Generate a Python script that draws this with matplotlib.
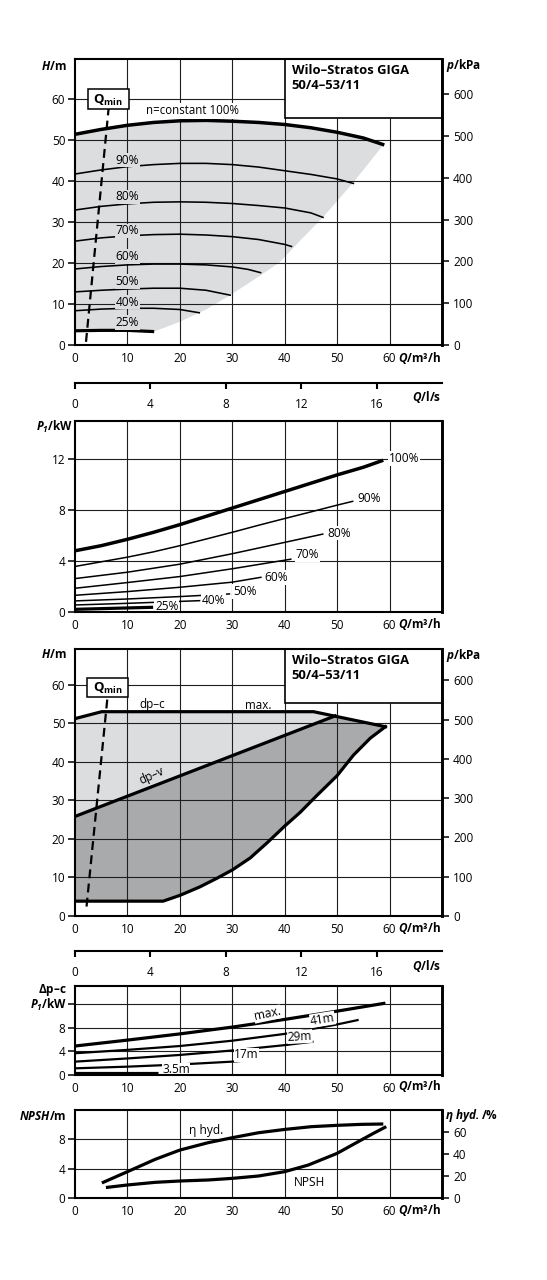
import matplotlib
matplotlib.use("Agg")
import matplotlib.pyplot as plt
from matplotlib.patches import Rectangle, Polygon

FONT = "Open Sans"
plt.rcParams.update({
    "font.family": [FONT, "DejaVu Sans"],
    "font.size": 8.5,
    "mathtext.fontset": "custom",
    "mathtext.rm": FONT,
    "mathtext.it": FONT + ":italic",
    "mathtext.bf": FONT + ":bold",
    "mathtext.bfit": FONT + ":bold:italic",
    "axes.linewidth": 1.5,
})

# ---------------- data ----------------
model_name = "Wilo–Stratos GIGA\n50/4–53/11"

q_ticks = [0, 10, 20, 30, 40, 50, 60]
qls_ticks = [0, 4, 8, 12, 16]
h_ticks = [0, 10, 20, 30, 40, 50, 60]
p_ticks = [0, 100, 200, 300, 400, 500, 600]

# head curves at constant speed (Q in m3/h, H in m)
speed_labels = ["90%", "80%", "70%", "60%", "50%", "40%", "25%"]
q_h100 = [0, 5, 10, 15, 20, 25, 30, 35, 40, 45, 50, 55, 59]
h_h100 = [51.4, 52.6, 53.6, 54.3, 54.7, 54.8, 54.6, 54.3, 53.8, 53.0, 51.9, 50.5, 48.8]
q_h90 = [0, 5, 10, 15, 20, 25, 30, 35, 40, 45, 50, 53.1]
h_h90 = [41.7, 42.7, 43.5, 44.0, 44.3, 44.3, 44.0, 43.4, 42.5, 41.6, 40.5, 39.4]
q_h80 = [0, 5, 10, 15, 20, 25, 30, 35, 40, 45, 47.3]
h_h80 = [32.9, 33.8, 34.4, 34.8, 34.9, 34.8, 34.5, 34.0, 33.4, 32.2, 31.1]
q_h70 = [0, 5, 10, 15, 20, 25, 30, 35, 40, 41.3]
h_h70 = [25.3, 26.1, 26.6, 26.9, 27.0, 26.8, 26.4, 25.7, 24.5, 24.0]
q_h60 = [0, 5, 10, 15, 20, 25, 30, 33, 35.4]
h_h60 = [18.5, 19.1, 19.5, 19.7, 19.7, 19.5, 19.0, 18.4, 17.6]
q_h50 = [0, 5, 10, 15, 20, 25, 29.6]
h_h50 = [12.9, 13.3, 13.6, 13.8, 13.8, 13.3, 12.1]
q_h40 = [0, 5, 10, 15, 20, 23.7]
h_h40 = [8.3, 8.7, 8.9, 8.9, 8.6, 7.8]
q_h25 = [0, 5, 10, 15.1]
h_h25 = [3.4, 3.5, 3.5, 3.2]
# right-hand edge of the operating field
q_edge = [15.1, 20, 25, 29.6, 35, 39.1, 43, 47.4, 53, 58.8]
h_edge = [3.2, 5.6, 8.6, 12.1, 16.6, 20.2, 25.5, 31.3, 39.5, 48.8]
# minimum flow marker
q_min = [2.1, 6.4]
h_min = [0.7, 57.6]

# power input P1 (kW) per speed
p_labels = ["100%", "90%", "80%", "70%", "60%", "50%", "40%", "25%"]
q_p100 = [0, 5, 10, 15, 20, 25, 30, 35, 40, 45, 50, 55, 58.8]
p_p100 = [4.8, 5.2, 5.7, 6.25, 6.85, 7.5, 8.15, 8.8, 9.45, 10.1, 10.75, 11.35, 11.9]
q_p90 = [0, 10, 15, 20, 25, 30, 35, 40, 45, 50, 53.1]
p_p90 = [3.57, 4.3, 4.72, 5.2, 5.72, 6.25, 6.8, 7.33, 7.85, 8.38, 8.69]
q_p80 = [0, 10, 20, 30, 40, 47.4]
p_p80 = [2.62, 3.12, 3.75, 4.57, 5.46, 6.12]
q_p70 = [0, 10, 20, 30, 41.3]
p_p70 = [1.86, 2.31, 2.78, 3.39, 4.15]
q_p60 = [0, 10, 20, 30, 35.6]
p_p60 = [1.31, 1.60, 1.94, 2.34, 2.73]
q_p50 = [0, 10, 20, 29.6]
p_p50 = [0.87, 1.02, 1.21, 1.42]
q_p40 = [0, 10, 23.9]
p_p40 = [0.55, 0.68, 0.89]
q_p25 = [0, 14.9]
p_p25 = [0.21, 0.37]

# control modes dp-c / dp-v
q_max_line = [0, 5.1, 45.5, 59.2]
h_max_line = [51.2, 53.0, 53.0, 49.1]
q_dpv = [0, 49.6]
h_dpv = [25.8, 51.9]
q_min_line = [0, 16.8, 20.0, 23.8, 27.0, 30.0, 33.4, 36.6, 40.0, 42.9, 46.1, 50.0, 53.1, 56.3, 59.2]
h_min_line = [3.8, 3.8, 5.3, 7.5, 9.7, 11.9, 15.0, 18.9, 23.3, 26.8, 31.2, 36.4, 41.7, 46.1, 49.1]
q_min2 = [2.2, 6.2]
h_min2 = [2.4, 56.8]

# power input at dp-c setpoints
dpc_labels = ["max.", "41m", "29m", "17m", "3.5m"]
q_c_max = [0, 10, 20, 30, 40, 50, 59.2]
p_c_max = [4.9, 5.9, 6.95, 8.1, 9.4, 10.8, 12.15]
q_c41 = [0, 10, 20, 30, 40, 50, 54.1]
p_c41 = [3.68, 4.25, 4.9, 5.8, 6.95, 8.55, 9.32]
q_c29 = [0, 10, 20, 30, 40, 45.5]
p_c29 = [2.26, 2.8, 3.39, 4.15, 5.05, 5.65]
q_c17 = [0, 10, 20, 30, 34.9]
p_c17 = [1.13, 1.41, 1.78, 2.26, 2.6]
q_c35 = [0, 15.8]
p_c35 = [0.4, 0.4]

# NPSH (m) and hydraulic efficiency (%)
q_eta = [5.4, 10, 15.3, 20, 25.4, 30, 35, 40, 45.1, 50, 54.7, 58.5]
eta = [14.5, 24.1, 35.3, 43.7, 50.4, 54.9, 59.4, 62.4, 64.9, 66.1, 67.0, 67.3]
q_npsh = [6.2, 10, 15.3, 20, 25.4, 30, 35, 40, 44.5, 50, 54, 56.9, 59.1]
npsh = [1.49, 1.81, 2.17, 2.35, 2.49, 2.71, 3.03, 3.62, 4.52, 6.11, 7.69, 8.82, 9.64]

# ---------------- layout helpers ----------------
W, H = 547, 1280
fig = plt.figure(figsize=(W / 100, H / 100), dpi=100)
fig.patch.set_facecolor("white")


def box(l, t, r, b):
    return [l / W, 1 - b / H, (r - l) / W, (b - t) / H]


def ftext(x, y, s, **kw):
    fig.text(x / W, 1 - y / H, s, **kw)


GRID = dict(color="#1e1e1e", lw=0.8, zorder=1)
LIGHT = "#dcdddf"
DARK = "#a9aaac"
QLABEL = r"$\mathbfit{Q}\mathbf{/m³/h}$"


def base_panel(rect, ytop, yticks, ylabels=None):
    ax = fig.add_axes(box(*rect))
    ax.set_xlim(0, 70)
    ax.set_ylim(0, ytop)
    ax.set_xticks(q_ticks)
    ax.set_yticks(yticks)
    if ylabels is not None:
        ax.set_yticklabels(ylabels)
    ax.tick_params(axis="x", length=0, pad=5, labelsize=8.5)
    ax.tick_params(axis="y", direction="out", length=5, width=1.1, pad=2, labelsize=8.5)
    ax.spines["right"].set_linewidth(2.1)
    for s in ax.spines.values():
        s.set_zorder(6)
    return ax


def right_axis(ax, ytop, ticks, factor):
    tw = ax.twinx()
    tw.set_ylim(0, ytop * factor)
    tw.set_yticks(ticks)
    tw.tick_params(axis="y", direction="out", length=5, width=1.1, pad=3, labelsize=8.5)
    for s in tw.spines.values():
        s.set_visible(False)
    return tw


def qls_axis(y_line):
    a = fig.add_axes(box(75, y_line - 1, 442, y_line))
    a.set_xlim(0, 70 / 3.6)
    a.set_ylim(0, 1)
    a.set_xticks(qls_ticks)
    a.set_yticks([])
    for k in ("top", "left", "right"):
        a.spines[k].set_visible(False)
    a.spines["bottom"].set_linewidth(1.5)
    a.patch.set_visible(False)
    a.tick_params(axis="x", direction="out", length=4, width=1.5, pad=7, labelsize=8.5)
    ftext(441, y_line + 14.5, r"$\mathbfit{Q}\mathbf{/l/s}$", ha="right", va="center", fontsize=8.5)


def title_box(ax, ybot, ytop):
    ax.add_patch(Rectangle((40, ybot), 30, ytop - ybot, facecolor="white",
                           edgecolor="black", lw=1.2, zorder=5, clip_on=False))
    ax.text(41.3, ytop - 1.2, model_name, ha="left", va="top", fontsize=9.4,
            fontweight="bold", linespacing=1.2, zorder=6)


def qmin_box(ax, x0, x1, y0, y1):
    ax.add_patch(Rectangle((x0, y0), x1 - x0, y1 - y0, facecolor="white",
                           edgecolor="black", lw=1.1, zorder=5))
    ax.text((x0 + x1) / 2, (y0 + y1) / 2 - 0.3, r"$\mathbf{Q}_{\mathbf{min}}$", ha="center",
            va="center", fontsize=9.5, zorder=6)


def hv_grid(ax, hlines, vfull, vshort, vshort_top, h60_right=None, h60=None):
    for y in hlines:
        ax.hlines(y, 0, 70, **GRID)
    if h60 is not None:
        ax.hlines(h60, 0, h60_right, **GRID)
    for x in vfull:
        ax.vlines(x, 0, ax.get_ylim()[1], **GRID)
    for x in vshort:
        ax.vlines(x, 0, vshort_top, **GRID)


# ---------------- panel 1: head curves ----------------
Y1 = 69.8
ax1 = base_panel((75, 59, 442, 344.7), Y1, h_ticks)
right_axis(ax1, Y1, p_ticks, 9.81)
hv_grid(ax1, [10, 20, 30, 40, 50], [10, 20, 30, 40], [50, 60], 55.3, 40, 60)
field = list(zip(q_h25, h_h25)) + list(zip(q_edge, h_edge)) + list(zip(q_h100[::-1], h_h100[::-1]))
ax1.add_patch(Polygon(field, closed=True, facecolor=LIGHT, edgecolor="none", zorder=0.5))
ax1.plot(q_h100, h_h100, color="black", lw=2.5, solid_capstyle="butt", zorder=3)
speed_curves = [(q_h90, h_h90), (q_h80, h_h80), (q_h70, h_h70), (q_h60, h_h60),
                (q_h50, h_h50), (q_h40, h_h40)]
for qs, hs in speed_curves:
    ax1.plot(qs, hs, color="black", lw=1.15, zorder=3)
ax1.plot(q_h25, h_h25, color="black", lw=2.3, solid_capstyle="butt", zorder=3)
speed_label_y = [45.1, 36.1, 27.8, 21.5, 15.4, 10.4, 5.4]
for lab, yy in zip(speed_labels, speed_label_y):
    ax1.text(10, yy, lab, ha="center", va="center", fontsize=8.6, zorder=4,
             bbox=dict(facecolor=LIGHT, edgecolor="none", pad=0.6))
ax1.text(22.5, 57.1, "n=constant 100%", ha="center", va="center", fontsize=8.3, zorder=4,
         bbox=dict(facecolor="white", edgecolor="none", pad=0.8))
ax1.plot(q_min, h_min, color="black", lw=1.6, ls=(0, (4, 2.4)), zorder=3)
qmin_box(ax1, 2.4, 10.3, 57.6, 62.4)
title_box(ax1, 55.3, Y1)
ftext(67, 66, r"$\mathbfit{H}\mathbf{/m}$", ha="right", va="center", fontsize=8.5)
ftext(445.5, 66, r"$\mathbfit{p}\mathbf{/kPa}$", ha="left", va="center", fontsize=8.5)
ftext(441, 357.5, QLABEL, ha="right", va="center", fontsize=8.5)
qls_axis(382.7)

# ---------------- panel 2: power input per speed ----------------
Y2 = 15.0
ax2 = base_panel((75, 420.7, 442, 612), Y2, [0, 4, 8, 12])
hv_grid(ax2, [4, 8, 12], [10, 20, 30, 40, 50, 60], [], 0)
p_curves = [(q_p100, p_p100), (q_p90, p_p90), (q_p80, p_p80), (q_p70, p_p70),
            (q_p60, p_p60), (q_p50, p_p50), (q_p40, p_p40), (q_p25, p_p25)]
p_widths = [2.5, 1.1, 1.1, 1.1, 1.1, 1.1, 1.1, 2.3]
p_label_pos = [(62.7, 12.05), (56.1, 8.87), (50.3, 6.19), (44.3, 4.49), (38.4, 2.70),
               (32.4, 1.60), (26.4, 0.89), (17.5, 0.42)]
for (qs, ps), lw, lab, (lx, ly) in zip(p_curves, p_widths, p_labels, p_label_pos):
    ax2.plot(qs, ps, color="black", lw=lw, solid_capstyle="butt", zorder=3)
    ax2.text(lx, ly, lab, ha="center", va="center", fontsize=8.6, zorder=4, clip_on=True,
             bbox=dict(facecolor="white", edgecolor="none", pad=0.5))
ftext(73, 427, r"$\mathbfit{P}_{\mathbfit{1}}\mathbf{/kW}$", ha="right", va="center", fontsize=8.5)
ftext(441, 624, QLABEL, ha="right", va="center", fontsize=8.5)

# ---------------- panel 3: control modes ----------------
Y3 = 69.2
ax3 = base_panel((75, 649.3, 442, 915.8), Y3, h_ticks)
right_axis(ax3, Y3, p_ticks, 9.81)
hv_grid(ax3, [10, 20, 30, 40, 50], [10, 20, 30, 40], [50, 60], 55.2, 40, 60)
light_poly = list(zip(q_max_line[:3], h_max_line[:3])) + [(q_dpv[1], h_dpv[1])] + [(q_dpv[0], h_dpv[0])]
ax3.add_patch(Polygon(light_poly, closed=True, facecolor=LIGHT, edgecolor="none", zorder=0.5))
dark_poly = (list(zip(q_dpv, h_dpv)) + [(q_max_line[-1], h_max_line[-1])]
             + list(zip(q_min_line[::-1], h_min_line[::-1])))
ax3.add_patch(Polygon(dark_poly, closed=True, facecolor=DARK, edgecolor="none", zorder=0.5))
ax3.plot(q_max_line, h_max_line, color="black", lw=2.3, solid_joinstyle="miter", zorder=3)
ax3.plot(q_dpv, h_dpv, color="black", lw=2.3, zorder=3)
ax3.plot(q_min_line, h_min_line, color="black", lw=2.3, zorder=3)
ax3.text(14.7, 54.9, "dp–c", ha="center", va="center", fontsize=8.4, zorder=4)
ax3.text(34.9, 54.7, "max.", ha="center", va="center", fontsize=8.4, zorder=4)
ax3.text(14.6, 36.4, "dp–v", ha="center", va="center", fontsize=8.4, zorder=4, rotation=24)
ax3.plot(q_min2, h_min2, color="black", lw=1.6, ls=(0, (4, 2.4)), zorder=3)
qmin_box(ax3, 2.35, 10.2, 56.8, 61.7)
title_box(ax3, 55.2, Y3)
ftext(67, 655, r"$\mathbfit{H}\mathbf{/m}$", ha="right", va="center", fontsize=8.5)
ftext(446.5, 655, r"$\mathbfit{p}\mathbf{/kPa}$", ha="left", va="center", fontsize=8.5)
ftext(441, 927.5, QLABEL, ha="right", va="center", fontsize=8.5)
qls_axis(951)

# ---------------- panel 4: power input at dp-c ----------------
Y4 = 15.1
ax4 = base_panel((75, 985.7, 442, 1075), Y4, [0, 4, 8, 12], ["0", "4", "8", ""])
hv_grid(ax4, [4, 8, 12], [10, 20, 30, 40, 50, 60], [], 0)
c_curves = [(q_c_max, p_c_max), (q_c41, p_c41), (q_c29, p_c29), (q_c17, p_c17), (q_c35, p_c35)]
c_widths = [2.3, 1.6, 1.6, 1.6, 2.3]
c_label_pos = [(36.7, 10.3, 12), (47.2, 9.4, 9), (42.9, 6.5, 3), (32.7, 3.4, 0), (19.3, 0.95, 0)]
for (qs, ps), lw, lab, (lx, ly, rot) in zip(c_curves, c_widths, dpc_labels, c_label_pos):
    ax4.plot(qs, ps, color="black", lw=lw, solid_capstyle="butt", zorder=3)
    ax4.text(lx, ly, lab, ha="center", va="center", fontsize=8.6, zorder=4, rotation=rot,
             clip_on=True, bbox=dict(facecolor="white", edgecolor="none", pad=0.3))
ftext(67, 990, r"$\mathbf{\Delta p–c}$", ha="right", va="center", fontsize=8.5)
ftext(67, 1005, r"$\mathbfit{P}_{\mathbfit{1}}\mathbf{/kW}$", ha="right", va="center", fontsize=8.5)
ftext(441, 1086, QLABEL, ha="right", va="center", fontsize=8.5)

# ---------------- panel 5: NPSH and efficiency ----------------
Y5 = 12.0
ax5 = base_panel((75, 1110, 442, 1198.3), Y5, [0, 4, 8])
tw5 = right_axis(ax5, Y5, [0, 20, 40, 60], 80 / 12)
hv_grid(ax5, [4, 8], [10, 20, 30, 40, 50, 60], [], 0)
ax5.plot(q_npsh, npsh, color="black", lw=2.3, zorder=3)
tw5.plot(q_eta, eta, color="black", lw=2.3, zorder=3)
ax5.text(25.1, 9.2, "η hyd.", ha="center", va="center", fontsize=8.6, zorder=4)
ax5.text(44.8, 2.1, "NPSH", ha="center", va="center", fontsize=8.6, zorder=4)
ftext(67, 1116, r"$\mathbfit{NPSH}\mathbf{/m}$", ha="right", va="center", fontsize=8.5)
ftext(445, 1115, r"$\mathbfit{\eta\ hyd.}\mathbf{/\%}$", ha="left", va="center", fontsize=8.5)
ftext(441, 1210, QLABEL, ha="right", va="center", fontsize=8.5)

fig.savefig("out.png", dpi=100, facecolor="white")
